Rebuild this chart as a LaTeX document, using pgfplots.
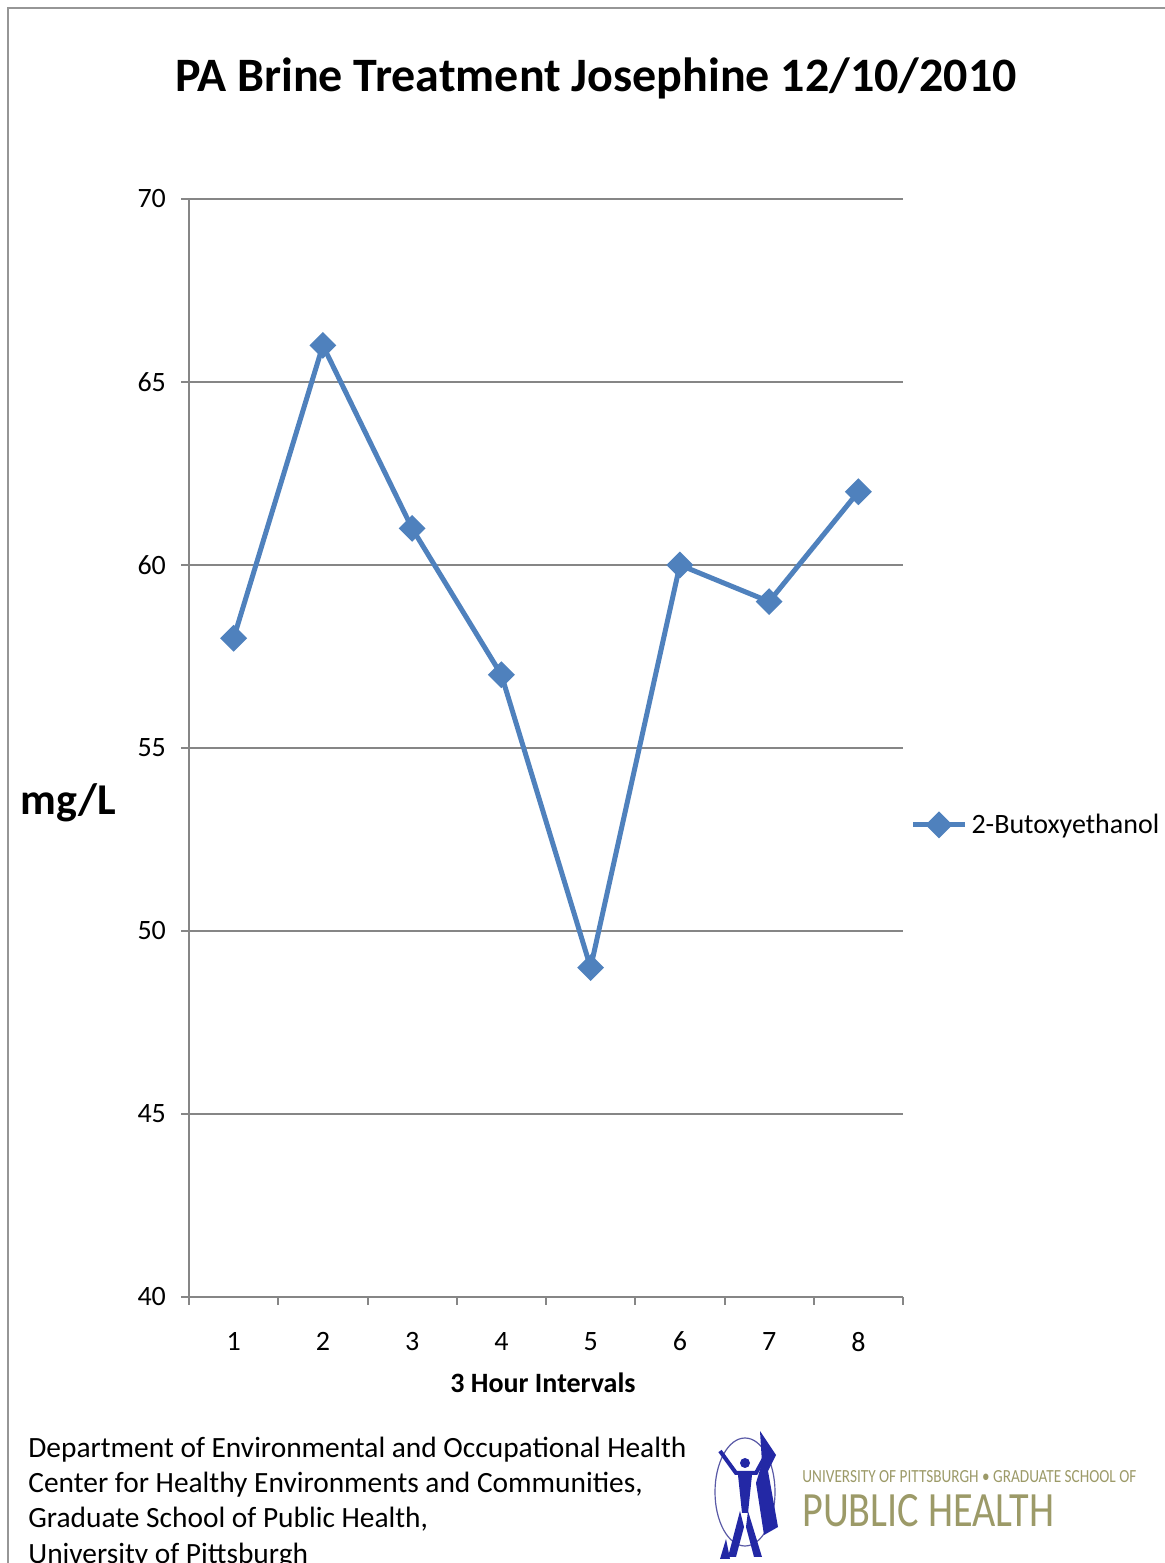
\documentclass[border=0pt]{standalone}
\usepackage{graphicx}
\usepackage{pgfplots}
\pgfplotsset{compat=1.18}
\usepackage{fontspec}
\setmainfont{Carlito}
\definecolor{series}{RGB}{79,129,189}
\definecolor{gridc}{RGB}{134,134,134}
\definecolor{framec}{RGB}{150,150,150}
\definecolor{logotext}{RGB}{156,154,104}
\definecolor{logoblue}{RGB}{35,40,165}
\begin{document}
\begin{tikzpicture}
\path[use as bounding box] (0,0) rectangle (582.5pt,781.5pt);
% frame
\draw[framec, line width=1pt] (4pt,0pt) -- (4pt,777.5pt) -- (582.5pt,777.5pt);
% title
\node[font=\fontsize{24}{29}\selectfont\bfseries] at (298pt,742.5pt) {PA Brine Treatment Josephine 12/10/2010};
\begin{axis}[
  at={(94.5pt,133pt)}, anchor=south west,
  scale only axis, width=357pt, height=549pt,
  xmin=0.5, xmax=8.5, ymin=40, ymax=70,
  xtick={1,2,3,4,5,6,7,8},
  minor xtick={0.5,1.5,2.5,3.5,4.5,5.5,6.5,7.5,8.5},
  ytick={40,45,50,55,60,65,70},
  axis x line*=bottom, axis y line*=left,
  axis line style={gridc, line width=1pt},
  tick align=outside,
  major tick length=4pt, minor tick length=4pt,
  major x tick style={draw=none},
  every tick/.style={gridc, line width=1pt},
  minor x tick style={gridc, line width=1pt},
  ymajorgrids, grid style={gridc, line width=1pt},
  tick label style={font=\fontsize{14}{16}\selectfont},
  /pgf/number format/assume math mode=true,
  xticklabel style={yshift=-10pt},
  yticklabel style={xshift=-4pt},
  legend style={at={(1.01,0.43)}, anchor=west, draw=none, fill=none,
     inner xsep=0pt, inner ysep=0pt, font=\fontsize{14}{17}\selectfont},
  legend cell align=left,
  legend image code/.code={\draw[#1, mark repeat=2, mark phase=2] plot coordinates {(0pt,0pt) (13pt,0pt) (26pt,0pt)};},
  clip=false,
]
\addplot[series, line width=2.5pt, mark=square*, mark size=3.5pt, mark options={rotate=45, solid}]
  coordinates {(1,58) (2,66) (3,61) (4,57) (5,49) (6,60) (7,59) (8,62)};
\addlegendentry{2-Butoxyethanol}
\end{axis}
% axis labels
\node[font=\fontsize{22}{26}\selectfont\bfseries] at (34pt,380pt) {mg/L};
\node[font=\fontsize{14}{17}\selectfont\bfseries] at (271.5pt,90pt) {3 Hour Intervals};
% footer
\begin{scope}[font=\fontsize{14.7}{17}\selectfont]
\node[anchor=base west, inner sep=0pt] at (14pt,52.5pt) {Department of Environmental and Occupational Health};
\node[anchor=base west, inner sep=0pt] at (14pt,35pt) {Center for Healthy Environments and Communities,};
\node[anchor=base west, inner sep=0pt] at (14pt,17.5pt) {Graduate School of Public Health,};
\node[anchor=base west, inner sep=0pt] at (14pt,0pt) {University of Pittsburgh};
\end{scope}
% logo
\draw[gray!70!blue, line width=0.6pt] (372.5pt,35.5pt) ellipse [x radius=15pt, y radius=27pt];
\fill[logoblue] (380pt,66pt) -- (388pt,54pt) -- (384pt,46pt) -- (389pt,18pt) -- (382pt,14pt) -- (378pt,40pt) -- (381pt,50pt) -- cycle;
\draw[logoblue, line width=2pt] (360pt,56pt) -- (368pt,45pt) -- (378pt,45pt) -- (384pt,56pt);
\fill[logoblue] (372.5pt,50pt) circle (2.5pt);
\fill[logoblue] (369pt,44pt) -- (376pt,44pt) -- (374pt,25pt) -- (371pt,25pt) -- cycle;
\fill[logoblue] (370pt,26pt) -- (364pt,3pt) -- (368pt,3pt) -- (372pt,18pt) -- cycle;
\fill[logoblue] (374pt,26pt) -- (381pt,3pt) -- (377pt,3pt) -- (373pt,18pt) -- cycle;
\fill[logoblue] (363pt,12pt) -- (360pt,2pt) -- (365pt,2pt) -- cycle;
\node[anchor=base west, inner sep=0pt, text=logotext] at (401pt,40pt) {\resizebox{167pt}{6pt}{UNIVERSITY OF PITTSBURGH \textbullet{} GRADUATE SCHOOL OF}};
\node[anchor=base west, inner sep=0pt, text=logotext] at (401pt,18pt) {\resizebox{126pt}{16pt}{PUBLIC HEALTH}};
\end{tikzpicture}
\end{document}
